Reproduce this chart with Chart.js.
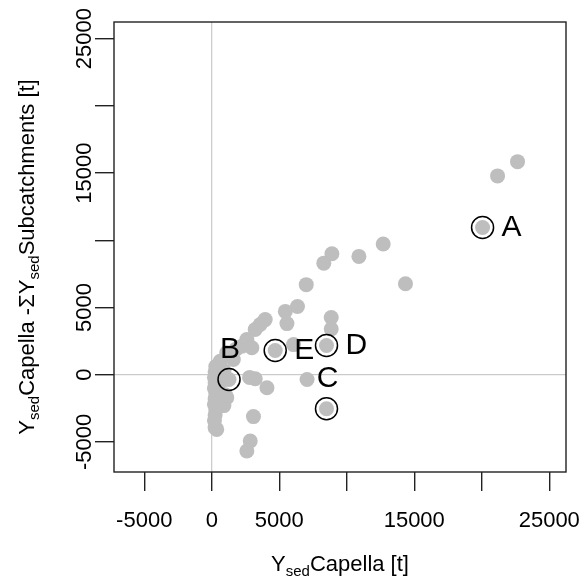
<!DOCTYPE html>
<html><head><meta charset="utf-8">
<script src="https://cdn.jsdelivr.net/npm/chart.js@4/dist/chart.umd.min.js"></script>
<style>html,body{margin:0;padding:0;background:#fff;}</style>
</head><body>
<canvas id="c" width="579" height="576"></canvas>
<script>
// ---- data ----
const xValues = [22650,21170,20060,12700,10900,14350,8900,8300,7000,6350,5450,5570,8850,8850,8500,4700,6060,3960,3590,3220,2600,2230,2970,1110,1600,620,7060,8500,1280,3220,4090,3090,2850,2600,1110,250,370,300,250,200,250,200,300,250,200,300,250,200,700,900,1800,2800,900,1000];
const yValues = [15850,14790,10950,9720,8800,6770,9000,8300,6700,5070,4710,3800,4250,3400,2170,1800,2240,4100,3730,3360,2610,2120,2000,1630,1130,1000,-360,-2530,-360,-300,-970,-3120,-4930,-5680,-1710,-3940,-4070,600,200,-200,-600,-1000,-1400,-1800,-2200,-2600,-3000,-3400,-500,300,1900,-200,-2300,-1500];
const labelNames = ['A','B','C','D','E'];
const labelX = [20060,1280,8500,8500,4700];
const labelY = [10950,-360,-2530,2170,1800];
const labelSide = ['right','above','above','right','right'];
const tickValues = [-5000,0,5000,10000,15000,20000,25000];
const tickLabels = ['-5000','0','5000','','15000','','25000'];
const axisMin = -7240, axisMax = 26240;

const FONT = 'Liberation Sans, Arial, Helvetica, sans-serif';
const GREY = '#BEBEBE';

const points = xValues.map((x,i)=>({x:x,y:yValues[i]}));
const marked = labelX.map((x,i)=>({x:x,y:labelY[i]}));

function drawRich(ctx, segs, cx, baseline){
  let total = 0;
  segs.forEach(s=>{ctx.font = (s.sub? '15px ':'22px ')+FONT; s.w = ctx.measureText(s.t).width; total += s.w;});
  let x = cx - total/2;
  ctx.textAlign='left'; ctx.textBaseline='alphabetic';
  segs.forEach(s=>{ctx.font = (s.sub? '15px ':'22px ')+FONT; ctx.fillText(s.t, x, baseline + (s.sub?5:0)); x += s.w;});
}

const decor = {
  id:'decor',
  afterDraw(chart){
    const ctx = chart.ctx, a = chart.chartArea;
    const xs = chart.scales.x, ys = chart.scales.y;
    ctx.save();
    ctx.strokeStyle='#222'; ctx.lineWidth=1.4;
    ctx.strokeRect(a.left, a.top, a.right-a.left, a.bottom-a.top);
    ctx.fillStyle='#000';
    ctx.font='22px '+FONT;
    // x tick labels
    ctx.textAlign='center'; ctx.textBaseline='alphabetic';
    tickValues.forEach((v,i)=>{
      if(!tickLabels[i]) return;
      ctx.fillText(tickLabels[i], xs.getPixelForValue(v), 527);
    });
    // y tick labels rotated
    ctx.textAlign='center'; ctx.textBaseline='alphabetic';
    tickValues.forEach((v,i)=>{
      if(!tickLabels[i]) return;
      ctx.save(); ctx.translate(91, ys.getPixelForValue(v)); ctx.rotate(-Math.PI/2);
      ctx.fillText(tickLabels[i],0,0); ctx.restore();
    });
    // axis titles
    drawRich(ctx,[{t:'Y'},{t:'sed',sub:true},{t:'Capella [t]'}], (a.left+a.right)/2, 571);
    ctx.save(); ctx.translate(34,(a.top+a.bottom)/2+10); ctx.rotate(-Math.PI/2);
    drawRich(ctx,[{t:'Y'},{t:'sed',sub:true},{t:'Capella -\u03A3Y'},{t:'sed',sub:true},{t:'Subcatchments [t]'}],0,0);
    ctx.restore();
    // point labels
    ctx.font='30px '+FONT; ctx.textBaseline='middle';
    labelNames.forEach((n,i)=>{
      const px = xs.getPixelForValue(labelX[i]), py = ys.getPixelForValue(labelY[i]);
      if(labelSide[i]==='right'){ctx.textAlign='left'; ctx.fillText(n, px+19, py);}
      else {ctx.textAlign='center'; ctx.fillText(n, px+1, py-30);}
    });
    ctx.restore();
  }
};

new Chart(document.getElementById('c'),{
  type:'scatter',
  data:{datasets:[
    {data:marked, pointRadius:11, pointHoverRadius:11, borderColor:'#000', borderWidth:1.5, backgroundColor:'rgba(0,0,0,0)', order:1},
    {data:points, pointRadius:7.5, pointHoverRadius:7.5, borderWidth:0, backgroundColor:GREY, order:2},
    {type:'line', data:[{x:0,y:axisMin},{x:0,y:axisMax}], borderColor:GREY, borderWidth:1, pointRadius:0, showLine:true, order:3},
    {type:'line', data:[{x:axisMin,y:0},{x:axisMax,y:0}], borderColor:GREY, borderWidth:1, pointRadius:0, showLine:true, order:3}
  ]},
  options:{
    responsive:false, animation:false, devicePixelRatio:1,
    layout:{padding:{left:0,right:13,top:22,bottom:0}},
    plugins:{legend:{display:false}, tooltip:{enabled:false}},
    scales:{
      x:{type:'linear', min:axisMin, max:axisMax,
        afterBuildTicks:s=>{s.ticks = tickValues.map(v=>({value:v}));},
        afterFit:s=>{s.height=104;},
        ticks:{display:false},
        grid:{drawOnChartArea:false, drawTicks:true, tickLength:19, color:'#222', lineWidth:1.4},
        border:{display:false}},
      y:{type:'linear', min:axisMin, max:axisMax,
        afterBuildTicks:s=>{s.ticks = tickValues.map(v=>({value:v}));},
        afterFit:s=>{s.width=114;},
        ticks:{display:false},
        grid:{drawOnChartArea:false, drawTicks:true, tickLength:19, color:'#222', lineWidth:1.4},
        border:{display:false}}
    }
  },
  plugins:[decor]
});
</script>
</body></html>
